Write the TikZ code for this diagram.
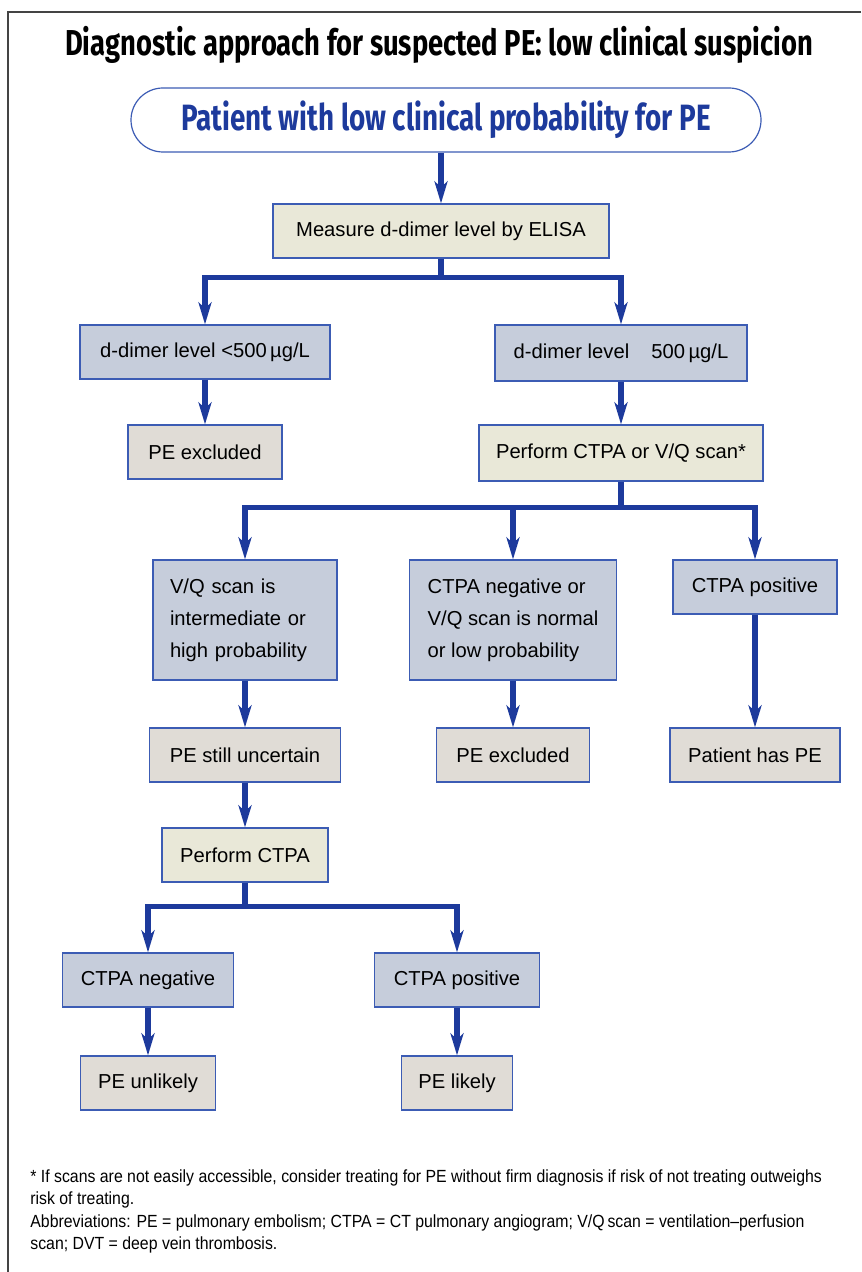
\documentclass[tikz,border=0pt]{standalone}
\usepackage{fontspec}
\setmainfont{Liberation Sans}
\newfontfamily\condfont[FakeStretch=0.76]{Fira Sans}
\newfontfamily\narrowfont[FakeStretch=0.9]{Liberation Sans}
\usetikzlibrary{arrows.meta}
\definecolor{flowblue}{HTML}{1D3A9C}
\definecolor{edgeblue}{HTML}{3C5CB4}
\definecolor{findfill}{HTML}{C6CDDB}
\definecolor{actionfill}{HTML}{E9E8D8}
\definecolor{outfill}{HTML}{E0DCD6}
\definecolor{framegray}{HTML}{444444}
\tikzset{>={Stealth[length=11pt,width=6.5pt,inset=3pt]},
  box/.style={draw=edgeblue, line width=0.6pt, inner sep=0pt,
    minimum height=27pt, font=\fontsize{10.1}{16}\selectfont},
  finding/.style={box, fill=findfill},
  action/.style={box, fill=actionfill},
  outcome/.style={box, fill=outfill},
  flow/.style={flowblue, line width=2.7pt, ->},
}

\begin{document}
\begin{tikzpicture}[x=0.5pt,y=-0.5pt]
\useasboundingbox (0,0) rectangle (861,1272);
% frame
\draw[framegray, line width=1pt] (861,12) -- (8,12) -- (8,1272);
% title and start
\node (title) at (439,45) {\condfont\bfseries\fontsize{18}{20}\selectfont Diagnostic approach for suspected PE: low clinical suspicion};
\node[draw=edgeblue, line width=0.6pt, rounded corners=16pt, minimum width=315pt, minimum height=32pt,
  text=flowblue, font=\condfont\bfseries\fontsize{18.3}{20}\selectfont] (patient) at (446,120) {Patient with low clinical probability for PE};
% first level
\node[action, minimum width=168pt] (measure) at (441,231) {Measure d-dimer level by ELISA};
\node[finding, minimum width=125pt] (low) at (205,352) {d-dimer level <500\,µg/L};
\node[finding, minimum width=126pt, minimum height=28pt] (high) at (621,353) {d-dimer level\hspace{1.1em}500\,µg/L};
\node[outcome, minimum width=77pt] (excla) at (205,452) {PE excluded};
\node[action, minimum width=142pt, minimum height=28pt] (scan) at (621,453) {Perform CTPA or V/Q scan*};
% scan results
\node[finding, minimum width=92pt, minimum height=60pt, text width=75pt, inner xsep=8.5pt, align=left] (vqhigh) at (245,620) {V/Q scan is\\ intermediate or\\ high probability};
\node[finding, minimum width=103.5pt, minimum height=60pt, inner xsep=9pt, align=left] (ctneg) at (513,620) {CTPA negative or\\ V/Q scan is normal\\ or low probability};
\node[finding, minimum width=82pt] (ctpos) at (755,587) {CTPA positive};
\node[outcome, minimum width=95.5pt] (uncertain) at (245,755) {PE still uncertain};
\node[outcome, minimum width=76.5pt] (exclb) at (513,755) {PE excluded};
\node[outcome, minimum width=85pt] (haspe) at (755,755) {Patient has PE};
% second CTPA
\node[action, minimum width=83pt] (ctpa) at (245,855) {Perform CTPA};
\node[finding, minimum width=85.5pt] (neg) at (148,980) {CTPA negative};
\node[finding, minimum width=82.5pt] (pos) at (457,980) {CTPA positive};
\node[outcome, minimum width=67.5pt] (unlikely) at (148,1083) {PE unlikely};
\node[outcome, minimum width=55.5pt] (likely) at (457,1083) {PE likely};
% connectors
\draw[flow] (measure.north |- patient.south) -- (measure.north);
\draw[flow] (measure.south) -- ++(0,19) coordinate (ja) -| (low.north);
\draw[flow] (ja) -| (high.north);
\draw[flow] (low) -- (excla);
\draw[flow] (high) -- (scan);
\draw[flow] (scan.south) -- ++(0,26) coordinate (jb) -| (vqhigh.north);
\draw[flow] (jb) -| (ctneg.north);
\draw[flow] (jb) -| (ctpos.north);
\draw[flow] (vqhigh) -- (uncertain);
\draw[flow] (ctneg) -- (exclb);
\draw[flow] (ctpos) -- (haspe);
\draw[flow] (uncertain) -- (ctpa);
\draw[flow] (ctpa.south) -- ++(0,24) coordinate (jc) -| (neg.north);
\draw[flow] (jc) -| (pos.north);
\draw[flow] (neg) -- (unlikely);
\draw[flow] (pos) -- (likely);
% footnote
\node[anchor=north west, inner sep=0pt, align=left, font=\narrowfont\fontsize{8.8}{11.3}\selectfont] (notes) at (30,1169)
  {* If scans are not easily accessible, consider treating for PE without firm diagnosis if risk of not treating outweighs\\
   risk of treating.\\
   Abbreviations: PE = pulmonary embolism; CTPA = CT pulmonary angiogram; V/Q\,scan = ventilation–perfusion\\
   scan; DVT = deep vein thrombosis.};
\end{tikzpicture}
\end{document}
